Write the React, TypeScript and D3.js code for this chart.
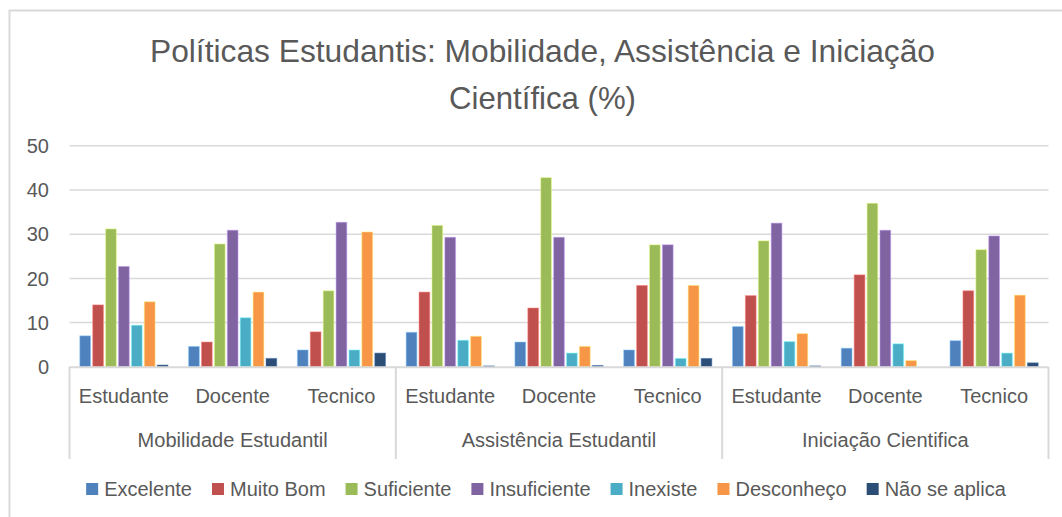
import React, { useEffect, useRef } from "react";
import * as d3 from "d3";

const groups = ["Mobilidade Estudantil", "Assistência Estudantil", "Iniciação Cientifica"];
const subcats = ["Estudante", "Docente", "Tecnico"];
const series = ["Excelente", "Muito Bom", "Suficiente", "Insuficiente", "Inexiste", "Desconheço", "Não se aplica"];
const colors = ["#4F81BD", "#C0504D", "#9BBB59", "#8064A2", "#4BACC6", "#F79646", "#2C4D75"];

// one value per group x subcategory, in order
const excelente = [7, 4.6, 3.8, 7.8, 5.6, 3.8, 9.1, 4.2, 5.9];
const muitoBom = [14, 5.6, 7.9, 16.9, 13.3, 18.4, 16.1, 20.8, 17.2];
const suficiente = [31.2, 27.8, 17.2, 32, 42.8, 27.6, 28.5, 37, 26.5];
const insuficiente = [22.7, 30.9, 32.7, 29.3, 29.3, 27.6, 32.5, 30.9, 29.6];
const inexiste = [9.4, 11.1, 3.8, 6, 3.1, 1.9, 5.7, 5.2, 3.1];
const desconheco = [14.7, 16.9, 30.5, 6.9, 4.6, 18.4, 7.5, 1.4, 16.2];
const naoSeAplica = [0.4, 1.9, 3.1, 0.2, 0.3, 1.9, 0.2, 0, 0.9];
const yTicks = [0, 10, 20, 30, 40, 50];

const values = [excelente, muitoBom, suficiente, insuficiente, inexiste, desconheco, naoSeAplica];

const FONT = "'Liberation Sans', Arial, sans-serif";
const TEXT = "#595959";
const GRID = "#d9d9d9";

const App = () => {
  const ref = useRef<SVGSVGElement>(null);

  useEffect(() => {
    const width = 1062;
    const height = 517;
    const left = 69.5;
    const right = 1048.5;
    const top = 145.8;
    const bottom = 366.8;

    const svg = d3.select(ref.current);
    svg.selectAll("*").remove();

    // chart frame
    svg
      .append("rect")
      .attr("x", 9.5)
      .attr("y", 10.5)
      .attr("width", width)
      .attr("height", height)
      .attr("fill", "white")
      .attr("stroke", GRID)
      .attr("stroke-width", 2);

    // title
    const title = svg
      .append("text")
      .attr("text-anchor", "middle")
      .attr("font-family", FONT)
      .attr("font-size", 32)
      .attr("fill", TEXT);
    title
      .append("tspan")
      .attr("x", 542.5)
      .attr("y", 61.5)
      .attr("textLength", 785)
      .attr("lengthAdjust", "spacingAndGlyphs")
      .text("Políticas Estudantis: Mobilidade, Assistência e Iniciação");
    title
      .append("tspan")
      .attr("x", 542.5)
      .attr("y", 108.5)
      .attr("textLength", 187)
      .attr("lengthAdjust", "spacingAndGlyphs")
      .text("Científica (%)");

    const keys = groups.flatMap((g) => subcats.map((s) => g + "|" + s));

    const x0 = d3.scaleBand().domain(keys).range([left, right]).padding(0);
    const x1 = d3
      .scaleBand()
      .domain(series)
      .range([0, x0.bandwidth()])
      .paddingInner(0.17)
      .paddingOuter(0.8);
    const xg = d3.scaleBand().domain(groups).range([left, right]).padding(0);

    const y = d3.scaleLinear().domain([0, 50]).range([bottom, top]);

    // gridlines
    svg
      .append("g")
      .selectAll("line")
      .data(yTicks.filter((t) => t > 0))
      .join("line")
      .attr("x1", left)
      .attr("x2", right)
      .attr("y1", (d) => y(d))
      .attr("y2", (d) => y(d))
      .attr("stroke", GRID)
      .attr("stroke-width", 1.5);

    // y labels
    svg
      .append("g")
      .selectAll("text")
      .data(yTicks)
      .join("text")
      .attr("x", 49)
      .attr("y", (d) => y(d))
      .attr("dy", "0.36em")
      .attr("text-anchor", "end")
      .attr("font-family", FONT)
      .attr("font-size", 20)
      .attr("fill", TEXT)
      .text((d) => d);

    // bars
    const bars = svg.append("g");
    series.forEach((s, si) => {
      bars
        .append("g")
        .selectAll("rect")
        .data(values[si])
        .join("rect")
        .attr("x", (d, i) => (x0(keys[i]) as number) + (x1(s) as number))
        .attr("y", (d) => y(d))
        .attr("width", x1.bandwidth())
        .attr("height", (d) => Math.max(0, y(0) - y(d)))
        .attr("fill", colors[si])
        .attr("stroke", d3.color(colors[si])!.brighter(1.2).formatHex())
        .attr("stroke-opacity", 0.5)
        .attr("stroke-width", 1);
    });

    // x axis line
    svg
      .append("line")
      .attr("x1", left)
      .attr("x2", right)
      .attr("y1", bottom + 0.5)
      .attr("y2", bottom + 0.5)
      .attr("stroke", GRID)
      .attr("stroke-width", 2);

    // group separators
    const seps = [...groups.map((g) => xg(g) as number), right];
    svg
      .append("g")
      .selectAll("line")
      .data(seps)
      .join("line")
      .attr("x1", (d) => d)
      .attr("x2", (d) => d)
      .attr("y1", bottom)
      .attr("y2", 459)
      .attr("stroke", GRID)
      .attr("stroke-width", 2);

    // subcategory labels
    svg
      .append("g")
      .selectAll("text")
      .data(keys)
      .join("text")
      .attr("x", (d) => (x0(d) as number) + x0.bandwidth() / 2)
      .attr("y", 403)
      .attr("text-anchor", "middle")
      .attr("font-family", FONT)
      .attr("font-size", 20)
      .attr("fill", TEXT)
      .text((d) => d.split("|")[1]);

    // group labels
    svg
      .append("g")
      .selectAll("text")
      .data(groups)
      .join("text")
      .attr("x", (d) => (xg(d) as number) + xg.bandwidth() / 2)
      .attr("y", 447)
      .attr("text-anchor", "middle")
      .attr("font-family", FONT)
      .attr("font-size", 20)
      .attr("fill", TEXT)
      .text((d) => d);

    // legend
    const ctx = document.createElement("canvas").getContext("2d")!;
    ctx.font = `20px ${FONT}`;
    const sq = 12;
    const gapText = 6;
    const gapItem = 20;
    const widths = series.map((s) => ctx.measureText(s).width);
    const total =
      d3.sum(widths) + series.length * (sq + gapText) + (series.length - 1) * gapItem;
    let lx = 546 - total / 2;
    const legend = svg.append("g");
    series.forEach((s, i) => {
      legend
        .append("rect")
        .attr("x", lx)
        .attr("y", 483)
        .attr("width", sq)
        .attr("height", sq)
        .attr("fill", colors[i]);
      legend
        .append("text")
        .attr("x", lx + sq + gapText)
        .attr("y", 496)
        .attr("font-family", FONT)
        .attr("font-size", 20)
        .attr("fill", TEXT)
        .text(s);
      lx += sq + gapText + widths[i] + gapItem;
    });
  }, []);

  return (
    <svg
      ref={ref}
      width={1062}
      height={517}
      style={{ position: "absolute", left: 0, top: 0, display: "block" }}
    ></svg>
  );
};

export default App;
